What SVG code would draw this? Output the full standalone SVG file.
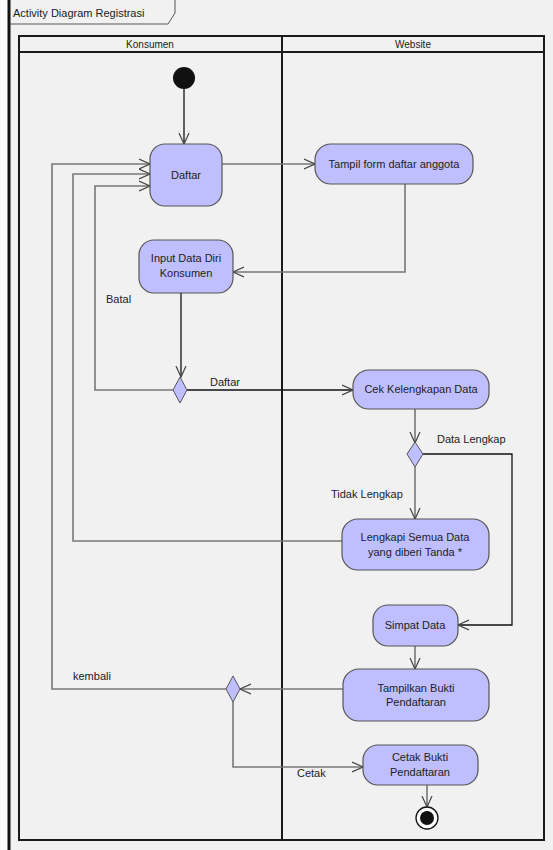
<svg xmlns="http://www.w3.org/2000/svg" width="553" height="850" viewBox="0 0 553 850">
<defs>
<marker id="arr" viewBox="0 0 12 12" refX="11" refY="6" markerWidth="12" markerHeight="12" markerUnits="userSpaceOnUse" orient="auto">
<path d="M0,1 L11,6 L0,11" fill="none" stroke="#444" stroke-width="1.2"/>
</marker>
<style>
.bg{fill:#f1f1f1}
.lane{fill:none;stroke:#1a1a1a;stroke-width:2}
.node{fill:#bfbfff;stroke:#555;stroke-width:1.2}
.dia{fill:#bfbfff;stroke:#555;stroke-width:1}
.t{font-family:"Liberation Sans",Arial,sans-serif;font-size:11px;fill:#222;text-anchor:middle}
.lbl{font-family:"Liberation Sans",Arial,sans-serif;font-size:11px;fill:#222}
.c{fill:none;stroke:#777;stroke-width:1.6}
.k{fill:none;stroke:#111;stroke-width:1.3}
</style>
</defs>
<rect x="0" y="0" width="553" height="850" fill="#fafafa"/>
<rect class="bg" x="9" y="0" width="544" height="850"/>
<g id="frame">
<line x1="9" y1="0" x2="9" y2="850" stroke="#111" stroke-width="3"/>
<path d="M10,24 L168,24 L175,13 L175,0" fill="none" stroke="#555" stroke-width="1"/>
<text class="lbl" x="13" y="17">Activity Diagram Registrasi</text>
</g>
<g id="swimlanes">
<rect class="lane" x="19" y="36" width="525" height="804"/>
<line class="lane" x1="19" y1="52" x2="544" y2="52"/>
<line class="lane" x1="282" y1="36" x2="282" y2="840"/>
<text class="t" x="150" y="48" style="font-size:10px">Konsumen</text>
<text class="t" x="413" y="48" style="font-size:10px">Website</text>
</g>
<g id="connectors">
<path class="k" d="M184,89 L184,144" marker-end="url(#arr)"/>
<path class="c" d="M222,164 L315,164" marker-end="url(#arr)"/>
<path class="c" d="M405,184 L405,272 L233,272" marker-end="url(#arr)"/>
<path class="k" d="M181,293 L181,377" marker-end="url(#arr)"/>
<path class="k" d="M187,390 L353,390" marker-end="url(#arr)"/>
<path class="c" d="M173,390 L95,390 L95,186 L150,186" marker-end="url(#arr)"/>
<path class="c" d="M415,409 L415,443" marker-end="url(#arr)"/>
<path class="k" d="M423,454 L512,454 L512,625 L458,625" marker-end="url(#arr)"/>
<path class="c" d="M415,467 L415,519" marker-end="url(#arr)"/>
<path class="c" d="M342,541 L73,541 L73,174 L150,174" marker-end="url(#arr)"/>
<path class="c" d="M415,646 L415,669" marker-end="url(#arr)"/>
<path class="c" d="M343,689 L240,689" marker-end="url(#arr)"/>
<path class="c" d="M226,689 L52,689 L52,164 L150,164" marker-end="url(#arr)"/>
<path class="c" d="M233,702 L233,767 L363,767" marker-end="url(#arr)"/>
<path class="c" d="M427,785 L427,807" marker-end="url(#arr)"/>
<text class="lbl" x="210" y="386">Daftar</text>
<text class="lbl" x="106" y="303">Batal</text>
<text class="lbl" x="437" y="443">Data Lengkap</text>
<text class="lbl" x="331" y="498">Tidak Lengkap</text>
<text class="lbl" x="73" y="680">kembali</text>
<text class="lbl" x="297" y="777">Cetak</text>
</g>
<g id="start"><circle cx="184" cy="78" r="11" fill="#111"/></g>
<g id="daftar"><rect class="node" x="150" y="144" width="72" height="62" rx="15"/><text class="t" x="186" y="179">Daftar</text></g>
<g id="tampil-form"><rect class="node" x="315" y="144" width="158" height="40" rx="16"/><text class="t" x="394" y="168">Tampil form daftar anggota</text></g>
<g id="input-data"><rect class="node" x="139" y="240" width="94" height="53" rx="15"/><text class="t" x="186" y="262">Input Data Diri</text><text class="t" x="186" y="277">Konsumen</text></g>
<g id="decision-daftar"><polygon class="dia" points="180,377 187,390 180,403 173,390"/></g>
<g id="cek"><rect class="node" x="353" y="370" width="136" height="39" rx="16"/><text class="t" x="421" y="393">Cek Kelengkapan Data</text></g>
<g id="decision-lengkap"><polygon class="dia" points="415,442 423,454 415,467 407,454"/></g>
<g id="lengkapi"><rect class="node" x="342" y="519" width="147" height="51" rx="16"/><text class="t" x="415" y="541">Lengkapi Semua Data</text><text class="t" x="415" y="556">yang diberi Tanda *</text></g>
<g id="simpat"><rect class="node" x="373" y="605" width="85" height="41" rx="15"/><text class="t" x="415" y="629">Simpat Data</text></g>
<g id="tampilkan"><rect class="node" x="343" y="669" width="146" height="52" rx="16"/><text class="t" x="416" y="692">Tampilkan Bukti</text><text class="t" x="416" y="706">Pendaftaran</text></g>
<g id="decision-cetak"><polygon class="dia" points="233,676 240,689 233,702 226,689"/></g>
<g id="cetak"><rect class="node" x="363" y="745" width="115" height="40" rx="15"/><text class="t" x="420" y="761">Cetak Bukti</text><text class="t" x="420" y="776">Pendaftaran</text></g>
<g id="end"><circle cx="427" cy="818" r="11" fill="#fff" stroke="#111" stroke-width="1.3"/><circle cx="427" cy="818" r="7" fill="#111"/></g>
</svg>
